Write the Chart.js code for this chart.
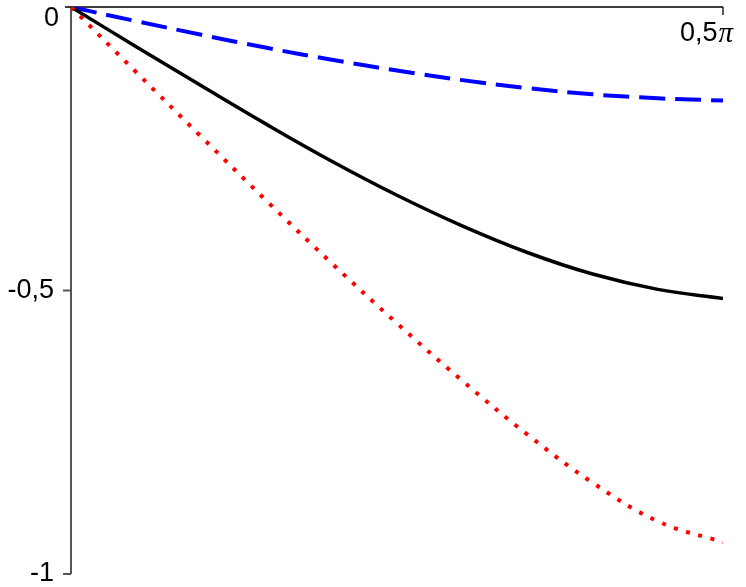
<!DOCTYPE html>
<html>
<head>
<meta charset="utf-8">
<script src="https://cdn.jsdelivr.net/npm/chart.js@4.4.0/dist/chart.umd.min.js"></script>
<style>
    body { margin: 0; background: #fff; }
    #wrap { width: 746px; height: 587px; position: relative; }
</style>
</head>
<body>
<div id="wrap"><canvas id="curveChart"></canvas></div>
<script>
// x values in units of pi
const xValues = [0, 0.05, 0.1, 0.15, 0.2, 0.25, 0.3, 0.35, 0.4, 0.45, 0.5];
const blueValues = [0, -0.025, -0.049, -0.072, -0.093, -0.112, -0.129, -0.143, -0.154, -0.161, -0.165];
const blackValues = [0, -0.070, -0.139, -0.207, -0.272, -0.332, -0.386, -0.433, -0.471, -0.498, -0.514];
const redValues = [0, -0.115, -0.229, -0.342, -0.452, -0.558, -0.659, -0.754, -0.839, -0.907, -0.944];
const yTicks = [0, -0.5, -1];
const yTickLabels = ['0', '-0,5', '-1'];
const xTicks = [0.5];
const xTickLabels = ['0,5'];
const xTickUnit = '\u03C0';

function toPoints(values) {
    return values.map((v, i) => ({ x: xValues[i], y: v }));
}

// draws the axes by hand: x axis on top, y axis on the left
const axesPlugin = {
    id: 'axes',
    beforeDatasetsDraw(chart) {
        const ctx = chart.ctx;
        const xs = chart.scales.x;
        const ys = chart.scales.y;
        const x0 = xs.getPixelForValue(0);
        const x1 = xs.getPixelForValue(0.5);
        const y0 = ys.getPixelForValue(0);
        const y1 = ys.getPixelForValue(-1);
        ctx.save();
        // y axis
        ctx.strokeStyle = '#555';
        ctx.lineWidth = 2;
        ctx.beginPath();
        ctx.moveTo(x0, y0);
        ctx.lineTo(x0, y1);
        yTicks.forEach((t) => {
            if (t === 0) return;
            const py = ys.getPixelForValue(t);
            ctx.moveTo(x0 - 8, py);
            ctx.lineTo(x0, py);
        });
        ctx.stroke();
        // x axis
        ctx.strokeStyle = '#000';
        ctx.lineWidth = 1.3;
        ctx.beginPath();
        ctx.moveTo(x0 - 6, y0);
        ctx.lineTo(x1, y0);
        xTicks.forEach((t) => {
            const px = xs.getPixelForValue(t);
            ctx.moveTo(px, y0);
            ctx.lineTo(px, y0 + 8);
        });
        ctx.stroke();
        // labels
        ctx.fillStyle = '#000';
        ctx.font = '27px "Liberation Sans", Arial, sans-serif';
        ctx.textAlign = 'right';
        ctx.textBaseline = 'middle';
        yTicks.forEach((t, i) => {
            let py = ys.getPixelForValue(t);
            let px = x0 - 17;
            if (t === 0) { py += 12; px = x0 - 12; }
            ctx.fillText(yTickLabels[i], px, py);
        });
        ctx.textAlign = 'left';
        xTicks.forEach((t, i) => {
            const px = xs.getPixelForValue(t) - 43;
            const py = y0 + 27;
            ctx.font = '27px "Liberation Sans", Arial, sans-serif';
            ctx.fillText(xTickLabels[i], px, py);
            const w = ctx.measureText(xTickLabels[i]).width;
            ctx.font = 'italic 29px "Liberation Serif", "Times New Roman", serif';
            ctx.fillText(xTickUnit, px + w + 1, py);
        });
        ctx.restore();
    }
};

const ctx = document.getElementById('curveChart').getContext('2d');
const curveChart = new Chart(ctx, {
    type: 'line',
    data: {
        datasets: [
            {
                label: 'red',
                data: toPoints(redValues),
                borderColor: '#ff0000',
                borderWidth: 4,
                borderDash: [4, 8.7],
                tension: 0.4,
                pointRadius: 0,
                fill: false
            },
            {
                label: 'black',
                data: toPoints(blackValues),
                borderColor: '#000000',
                borderWidth: 3.5,
                tension: 0.4,
                pointRadius: 0,
                fill: false
            },
            {
                label: 'blue',
                data: toPoints(blueValues),
                borderColor: '#0000ff',
                borderWidth: 4,
                borderDash: [26, 10],
                tension: 0.4,
                pointRadius: 0,
                fill: false
            }
        ]
    },
    options: {
        responsive: true,
        maintainAspectRatio: false,
        animation: false,
        layout: { padding: { left: 71, top: 7, right: 23, bottom: 13 } },
        plugins: {
            legend: { display: false },
            tooltip: { enabled: false }
        },
        scales: {
            x: { type: 'linear', min: 0, max: 0.5, display: false },
            y: { type: 'linear', min: -1, max: 0, display: false }
        }
    },
    plugins: [axesPlugin]
});
</script>
</body>
</html>
